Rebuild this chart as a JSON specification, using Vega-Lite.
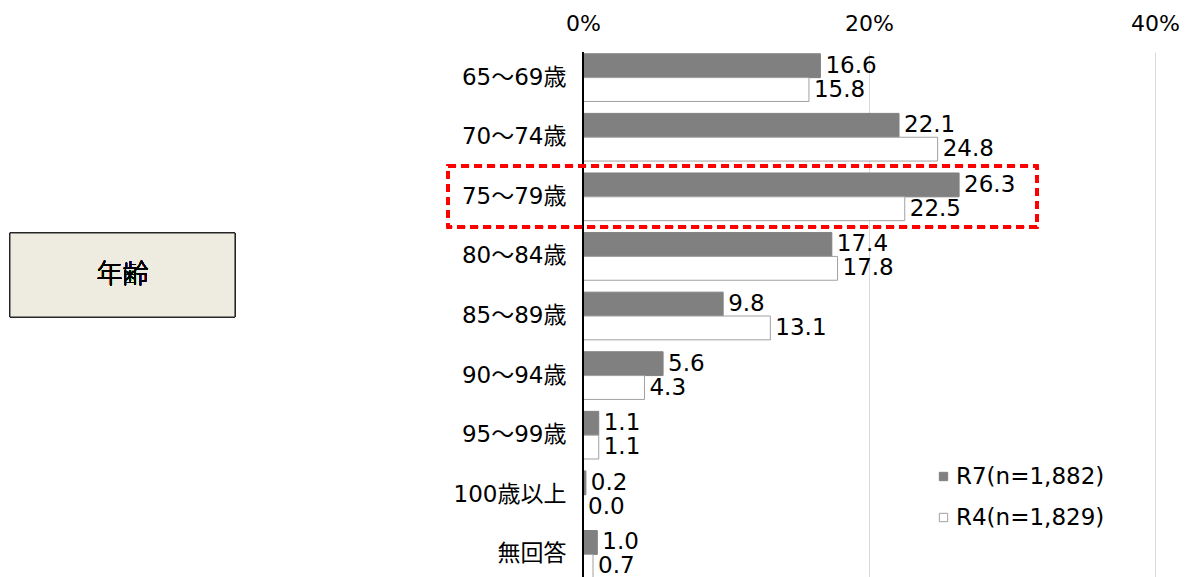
{
  "$schema": "https://vega.github.io/schema/vega-lite/v6.json",
  "width": 572,
  "height": 528,
  "padding": {"left": 9, "top": 12, "right": 0, "bottom": 0},
  "autosize": {"type": "pad"},
  "config": {
    "view": {"stroke": null},
    "font": "DejaVu Sans, Noto Sans CJK JP",
    "axis": {"labelColor": "#000000"}
  },
  "data": {
    "values": [
      {"cat": "65～69歳", "series": "R7(n=1,882)", "value": 16.6},
      {"cat": "65～69歳", "series": "R4(n=1,829)", "value": 15.8},
      {"cat": "70～74歳", "series": "R7(n=1,882)", "value": 22.1},
      {"cat": "70～74歳", "series": "R4(n=1,829)", "value": 24.8},
      {"cat": "75～79歳", "series": "R7(n=1,882)", "value": 26.3},
      {"cat": "75～79歳", "series": "R4(n=1,829)", "value": 22.5},
      {"cat": "80～84歳", "series": "R7(n=1,882)", "value": 17.4},
      {"cat": "80～84歳", "series": "R4(n=1,829)", "value": 17.8},
      {"cat": "85～89歳", "series": "R7(n=1,882)", "value": 9.8},
      {"cat": "85～89歳", "series": "R4(n=1,829)", "value": 13.1},
      {"cat": "90～94歳", "series": "R7(n=1,882)", "value": 5.6},
      {"cat": "90～94歳", "series": "R4(n=1,829)", "value": 4.3},
      {"cat": "95～99歳", "series": "R7(n=1,882)", "value": 1.1},
      {"cat": "95～99歳", "series": "R4(n=1,829)", "value": 1.1},
      {"cat": "100歳以上", "series": "R7(n=1,882)", "value": 0.2},
      {"cat": "100歳以上", "series": "R4(n=1,829)", "value": 0.0},
      {"cat": "無回答", "series": "R7(n=1,882)", "value": 1.0},
      {"cat": "無回答", "series": "R4(n=1,829)", "value": 0.7}
    ]
  },
  "layer": [
    {
      "encoding": {
        "y": {
          "field": "cat",
          "type": "nominal",
          "sort": null,
          "scale": {
            "domain": ["65～69歳", "70～74歳", "75～79歳", "80～84歳", "85～89歳", "90～94歳", "95～99歳", "100歳以上", "無回答"],
            "paddingInner": 0.2,
            "paddingOuter": 0.03
          },
          "axis": {
            "title": null,
            "domain": false,
            "ticks": false,
            "tickSize": 0,
            "labelFontSize": 23,
            "labelPadding": 17,
            "labelColor": "#000000"
          }
        },
        "yOffset": {
          "field": "series",
          "type": "nominal",
          "scale": {"domain": ["R7(n=1,882)", "R4(n=1,829)"], "paddingInner": 0, "paddingOuter": 0}
        },
        "x": {
          "field": "value",
          "type": "quantitative",
          "scale": {"domain": [0, 40], "nice": false, "zero": true},
          "axis": {
            "orient": "top",
            "title": null,
            "values": [0, 20, 40],
            "labelExpr": "datum.value + '%'",
            "grid": true,
            "gridColor": "#d9d9d9",
            "gridWidth": 1,
            "domain": false,
            "ticks": false,
            "tickSize": 0,
            "labelFontSize": 22,
            "labelPadding": 17,
            "labelFlush": false,
            "labelColor": "#000000"
          }
        }
      },
      "layer": [
        {
          "mark": {"type": "bar", "strokeWidth": 1},
          "encoding": {
            "fill": {
              "field": "series",
              "type": "nominal",
              "scale": {"domain": ["R7(n=1,882)", "R4(n=1,829)"], "range": ["#808080", "#ffffff"]},
              "legend": {
                "orient": "none",
                "legendX": 349,
                "legendY": 413,
                "title": null,
                "symbolType": "square",
                "symbolSize": 70,
                "symbolStrokeWidth": 1,
                "labelFontSize": 23,
                "labelColor": "#000000",
                "rowPadding": 17,
                "labelOffset": 1
              }
            },
            "stroke": {
              "field": "series",
              "type": "nominal",
              "scale": {"domain": ["R7(n=1,882)", "R4(n=1,829)"], "range": ["#808080", "#a0a0a0"]},
              "legend": {
                "orient": "none",
                "legendX": 349,
                "legendY": 413,
                "title": null,
                "symbolType": "square",
                "symbolSize": 70,
                "symbolStrokeWidth": 1,
                "labelFontSize": 23,
                "labelColor": "#000000",
                "rowPadding": 17,
                "labelOffset": 1
              }
            }
          }
        },
        {
          "mark": {"type": "text", "align": "left", "baseline": "middle", "dx": 5, "fontSize": 23, "color": "#000000"},
          "encoding": {
            "text": {"field": "value", "type": "quantitative", "format": ".1f"}
          }
        }
      ]
    },
    {
      "mark": {"type": "rule", "color": "#000000", "strokeWidth": 2},
      "encoding": {"x": {"datum": 0, "type": "quantitative"}}
    },
    {
      "layer": [
        {
          "mark": {"type": "rect", "fill": "#EEECE1", "stroke": "#262626", "strokeWidth": 1},
          "encoding": {
            "x": {"datum": -40.07, "type": "quantitative"},
            "x2": {"datum": -24.34},
            "y": {"datum": 65.72, "type": "quantitative", "scale": {"domain": [0, 100], "nice": false}, "axis": null},
            "y2": {"datum": 49.81}
          }
        },
        {
          "mark": {"type": "text", "text": "年齢", "font": "Noto Sans CJK JP", "fontSize": 26, "fontWeight": 300, "align": "center", "baseline": "middle", "color": "#000000"},
          "encoding": {
            "x": {"datum": -32.2, "type": "quantitative"},
            "y": {"datum": 57.77, "type": "quantitative", "scale": {"domain": [0, 100], "nice": false}, "axis": null}
          }
        },
        {
          "mark": {"type": "rect", "fill": null, "fillOpacity": 0, "stroke": "#ff0000", "strokeWidth": 2.5, "strokeDash": [8, 5]},
          "encoding": {
            "x": {"datum": -9.44, "type": "quantitative"},
            "x2": {"datum": 31.75},
            "y": {"datum": 78.41, "type": "quantitative", "scale": {"domain": [0, 100], "nice": false}, "axis": null},
            "y2": {"datum": 66.86}
          }
        }
      ]
    }
  ],
  "resolve": {"scale": {"y": "independent"}, "axis": {"y": "independent"}}
}
